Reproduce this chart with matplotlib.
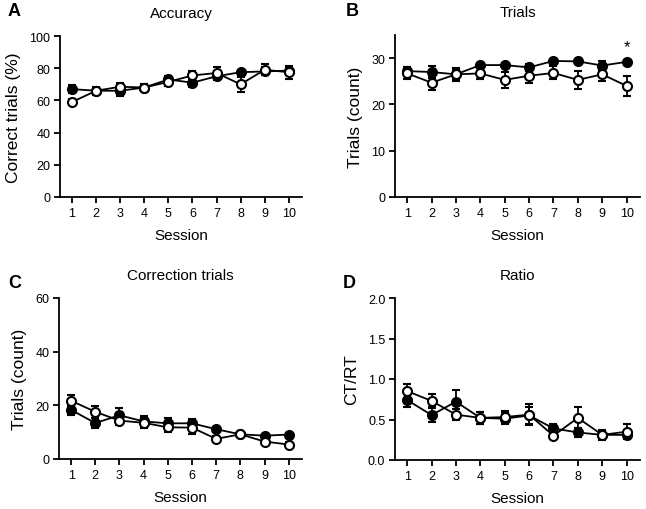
import matplotlib
matplotlib.use("Agg")
import matplotlib.pyplot as plt
import numpy as np

plt.rcParams['font.family'] = ['Liberation Sans', 'DejaVu Sans']

sessions = [1, 2, 3, 4, 5, 6, 7, 8, 9, 10]

acc_filled = [67, 66, 66, 68, 73, 71, 75, 77.5, 78, 78.5]
acc_filled_err = [2.5, 2, 3, 2, 2, 2.5, 2.5, 1.2, 2.5, 2.5]
acc_open = [59, 66, 68.5, 68, 71.5, 75.5, 77, 70, 79, 77.5]
acc_open_err = [2, 2.5, 2.5, 2, 2.5, 3, 3.5, 4.5, 3.5, 4]

tri_filled = [27.2, 27, 26.5, 28.5, 28.5, 28, 29.4, 29.3, 28.4, 29.2]
tri_filled_err = [0.9, 1.2, 1, 0.5, 0.5, 0.8, 0.5, 0.5, 1, 0.5]
tri_open = [26.7, 24.7, 26.5, 26.7, 25.3, 26.2, 26.8, 25.3, 26.5, 24.0]
tri_open_err = [1.3, 1.5, 1.4, 1.3, 1.8, 1.5, 1.4, 1.9, 1.5, 2.2]

cor_filled = [18.3, 13.4, 16.3, 14.0, 13.3, 13.3, 11.1, 9.2, 8.7, 9.1]
cor_filled_err = [2.0, 1.8, 2.8, 2.0, 2.0, 1.5, 0.8, 0.6, 0.8, 0.6]
cor_open = [21.7, 17.6, 14.3, 13.5, 11.8, 11.7, 7.5, 9.2, 6.5, 5.4]
cor_open_err = [2.3, 2.3, 1.8, 1.8, 1.8, 2.2, 1.0, 0.8, 1.0, 0.8]

rat_filled = [0.74, 0.555, 0.72, 0.52, 0.51, 0.55, 0.39, 0.34, 0.31, 0.31]
rat_filled_err = [0.09, 0.09, 0.15, 0.07, 0.07, 0.11, 0.05, 0.05, 0.06, 0.05]
rat_open = [0.85, 0.73, 0.56, 0.52, 0.53, 0.56, 0.30, 0.52, 0.31, 0.35]
rat_open_err = [0.09, 0.08, 0.07, 0.07, 0.07, 0.13, 0.03, 0.13, 0.05, 0.09]

panels = [
    dict(letter='A', title='Accuracy', ylabel='Correct trials (%)', ylim=(0, 100),
         yticks=[0, 20, 40, 60, 80, 100], yfmt='{:.0f}',
         f=acc_filled, fe=acc_filled_err, o=acc_open, oe=acc_open_err,
         rect=[60, 37, 302, 198], lpos=(8, 12)),
    dict(letter='B', title='Trials', ylabel='Trials (count)', ylim=(0, 35),
         yticks=[0, 10, 20, 30], yfmt='{:.0f}',
         f=tri_filled, fe=tri_filled_err, o=tri_open, oe=tri_open_err,
         rect=[395, 36, 640, 198], lpos=(346, 12)),
    dict(letter='C', title='Correction trials', ylabel='Trials (count)', ylim=(0, 60),
         yticks=[0, 20, 40, 60], yfmt='{:.0f}',
         f=cor_filled, fe=cor_filled_err, o=cor_open, oe=cor_open_err,
         rect=[59, 299, 302, 460], lpos=(8, 283)),
    dict(letter='D', title='Ratio', ylabel='CT/RT', ylim=(0, 2.0),
         yticks=[0, 0.5, 1.0, 1.5, 2.0], yfmt='{:.1f}',
         f=rat_filled, fe=rat_filled_err, o=rat_open, oe=rat_open_err,
         rect=[395, 299, 640, 461], lpos=(343, 283)),
]

W, H = 646, 510
fig = plt.figure(figsize=(W / 100, H / 100), dpi=100)

for p in panels:
    l, t, r, b = p['rect']
    ax = fig.add_axes([l / W, 1 - b / H, (r - l) / W, (b - t) / H])
    ekw = dict(capsize=3, elinewidth=1.3, capthick=1.3, ecolor='black',
               color='black', lw=1.3, ms=6.5, mew=1.5, marker='o', mec='black')
    ax.errorbar(sessions, p['f'], yerr=p['fe'], mfc='black', zorder=3, **ekw)
    ax.errorbar(sessions, p['o'], yerr=p['oe'], mfc='white', zorder=4, **ekw)
    ax.set_xlim(0.5, 10.55)
    ax.set_ylim(*p['ylim'])
    ax.set_xticks(sessions)
    ax.set_xticklabels([str(s) for s in sessions], fontsize=9)
    ax.set_yticks(p['yticks'])
    ax.set_yticklabels([p['yfmt'].format(v) for v in p['yticks']], fontsize=9)
    for s in ['top', 'right']:
        ax.spines[s].set_visible(False)
    for s in ['left', 'bottom']:
        ax.spines[s].set_linewidth(1.3)
    ax.tick_params(width=1.3, length=4, direction='out', pad=3)
    ax.set_xlabel('Session', fontsize=11, labelpad=7)
    ax.set_ylabel(p['ylabel'], fontsize=12.5, labelpad=6)
    ax.set_title(p['title'], fontsize=11, pad=14)
    lx, ly = p['lpos']
    fig.text(lx / W, 1 - ly / H, p['letter'], fontsize=13,
             fontweight='bold', ha='left', va='center')
    for c in ax.get_children():
        try:
            c.set_clip_on(False)
        except Exception:
            pass
    if p['letter'] == 'B':
        ax.text(10, 32.4, '*', ha='center', va='center', fontsize=12)

fig.savefig('out.png', dpi=100)
